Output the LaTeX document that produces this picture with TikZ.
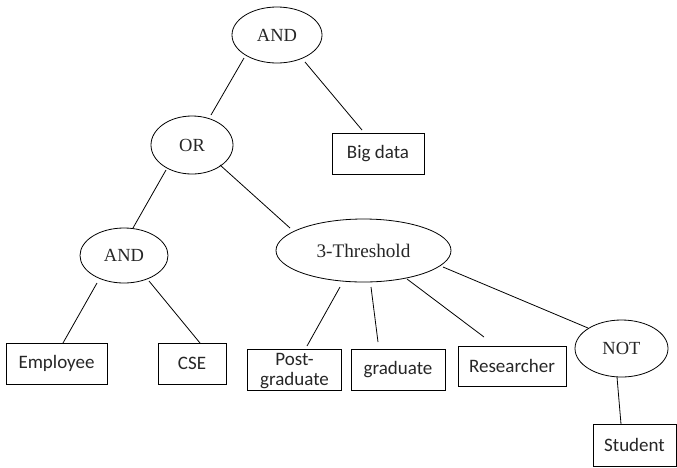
\documentclass[tikz,border=0pt]{standalone}
\usepackage{fontspec}
\setmainfont{Liberation Serif}
\newfontfamily\calfont{Carlito}
\usetikzlibrary{shapes.geometric,calc}
\begin{document}
\begin{tikzpicture}[x=1pt,y=-1pt,
  gate/.style={ellipse,draw,line width=0.8pt,inner sep=0pt,text=black!85,font=\fontsize{18.5}{21}\selectfont},
  leaf/.style={rectangle,draw,line width=0.8pt,inner sep=0pt,text=black!85,font=\calfont\fontsize{19}{20}\selectfont},
  link/.style={line width=0.8pt}]
\useasboundingbox (0,0) rectangle (677,467);
% gates
\node[gate,minimum width=90pt,minimum height=56pt] (and1) at (277,35) {AND};
\node[gate,minimum width=82pt,minimum height=58pt] (or) at (192,145) {OR};
\node[gate,minimum width=88pt,minimum height=55pt] (and2) at (124,255.5) {AND};
\node[gate,minimum width=175pt,minimum height=63pt,font=\fontsize{19.2}{21}\selectfont] (thr) at (363.5,250.5) {3-Threshold};
\node[gate,minimum width=93pt,minimum height=57pt] (not) at (621.5,348.5) {NOT};
% leaves
\node[leaf,minimum width=92pt,minimum height=41pt] (big) at (378,153.5) {Big data};
\node[leaf,minimum width=101pt,minimum height=41pt] (emp) at (56.5,363.5) {Employee};
\node[leaf,minimum width=68pt,minimum height=41pt] (cse) at (192,363.5) {CSE};
\node[leaf,minimum width=94pt,minimum height=41pt] (post) at (294.5,369.5)
  {\raisebox{-12.5pt}{\smash{\begin{tabular}{@{}c@{}}Post-\\graduate\end{tabular}}}};
\node[leaf,minimum width=94pt,minimum height=41pt] (grad) at (398,369.5) {graduate};
\node[leaf,minimum width=108pt,minimum height=40pt] (res) at (512,366) {Researcher};
\node[leaf,minimum width=83pt,minimum height=42pt] (stu) at (634.5,445) {Student};
% connectors
\draw[link] ($(and1)+(-33,23)$) -- ($(or)+(19,-30)$);
\draw[link] ($(and1)+(28,27)$) -- ($(big)+(-16,-23.5)$);
\draw[link] ($(or)+(-26,25)$) -- ($(and2)+(9,-27.5)$);
\draw[link] ($(or)+(28,20)$) -- ($(thr)+(-73.5,-22.5)$);
\draw[link] ($(and2)+(-27,27.5)$) -- ($(emp)+(6.5,-20.5)$);
\draw[link] ($(and2)+(25,25.5)$) -- ($(cse)+(8,-20.5)$);
\draw[link] ($(thr)+(-23.5,36.5)$) -- ($(post)+(12.5,-23.5)$);
\draw[link] ($(thr)+(7.5,36.5)$) -- ($(grad)+(-20,-27.5)$);
\draw[link] ($(thr)+(43.5,28.5)$) -- ($(res)+(-28,-29)$);
\draw[link] ($(thr)+(79.5,16.5)$) -- ($(not)+(-33.5,-20.5)$);
\draw[link] ($(not)+(-4.5,28.5)$) -- ($(stu)+(-13.5,-21)$);
\end{tikzpicture}
\end{document}
